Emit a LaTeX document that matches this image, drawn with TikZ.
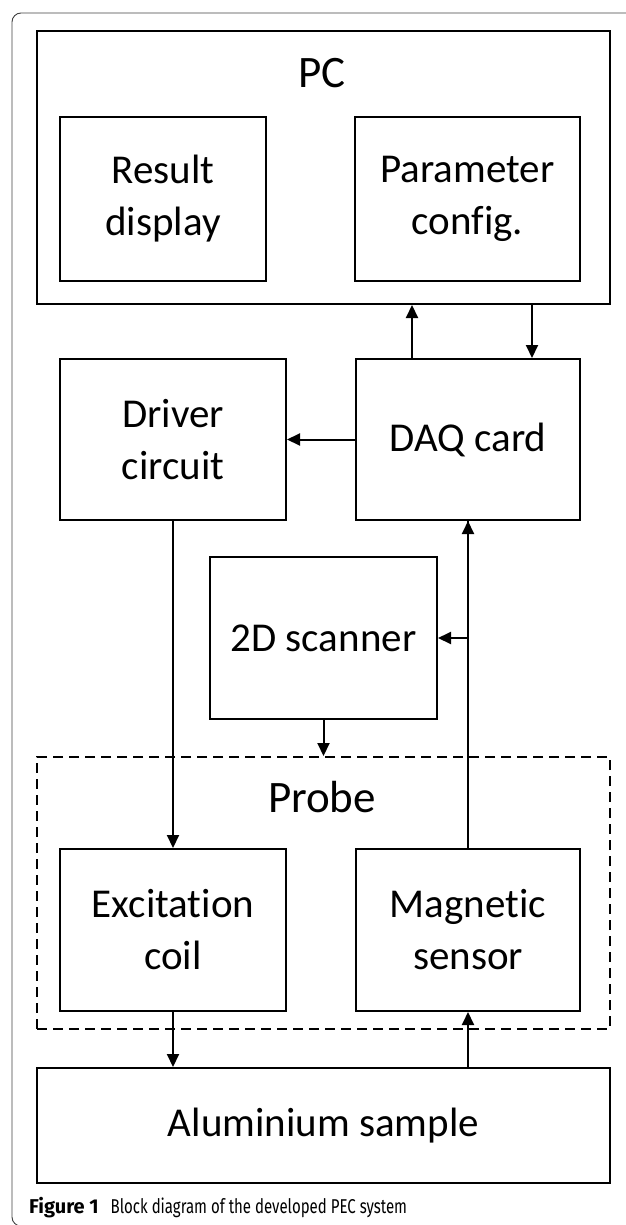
\documentclass[tikz,border=0pt]{standalone}
\usepackage{fontspec}
\setmainfont[Ligatures=NoCommon]{Carlito}
\newfontfamily\capfont{Fira Sans}
\usetikzlibrary{arrows.meta}
\tikzset{
  blk/.style={draw=black, line width=2pt, rectangle, inner sep=0pt, align=center,
    font=\fontsize{41}{52}\selectfont},
  dashblk/.style={draw=black, line width=2pt, rectangle, inner sep=0pt, dash pattern=on 10pt off 6pt},
  ttl/.style={inner sep=0pt, font=\fontsize{45}{52}\selectfont},
  arr/.style={line width=2pt, -{Triangle[width=12pt,length=13pt]}},
  frame/.style={draw=black!75, line width=0.9pt, rounded corners=9pt}
}
\begin{document}
\begin{tikzpicture}[x=1pt,y=1pt]
\useasboundingbox (0,0) rectangle (625,-1225);
% outer frame
\draw[frame] (640,-13) -- (12,-13) -- (12,-1226) -- (40,-1226);
% PC
\node[blk, minimum width=573pt, minimum height=273pt] (pc) at (323.5,-167.5) {};
\node[ttl] (pclbl) at (322,-73) {PC};
\node[blk, minimum width=206pt, minimum height=164pt] (res) at (163,-199) {Result\\display};
\node[blk, minimum width=225pt, minimum height=164pt] (par) at (467.5,-199) {Parameter\\config.};
% middle
\node[blk, minimum width=226pt, minimum height=161pt] (drv) at (173,-439.5) {Driver\\circuit};
\node[blk, minimum width=224pt, minimum height=161pt] (daq) at (468,-439.5) {DAQ card};
\node[blk, minimum width=227pt, minimum height=162pt] (scan) at (323.5,-638) {2D scanner};
% probe
\node[dashblk, minimum width=573pt, minimum height=272pt] (probe) at (323.5,-893) {};
\node[ttl] (problbl) at (322,-797) {Probe};
\node[blk, minimum width=226pt, minimum height=162pt] (exc) at (173,-930) {Excitation\\coil};
\node[blk, minimum width=224pt, minimum height=162pt] (mag) at (468,-930) {Magnetic\\sensor};
% sample
\node[blk, minimum width=573pt, minimum height=115pt] (alu) at (323.5,-1125.5) {Aluminium sample};
% arrows
\draw[arr] ([xshift=-56pt]daq.north) -- ([xshift=-56pt]daq.north |- pc.south);
\draw[arr] ([xshift=64pt]daq.north |- pc.south) -- ([xshift=64pt]daq.north);
\draw[arr] (daq.west) -- (drv.east);
\draw[arr] (daq.south) |- (scan.east);
\draw[arr] (scan.south) -- (scan.south |- probe.north);
\draw[arr] (drv.south) -- (exc.north);
\draw[arr] (mag.north) -- (daq.south);
\draw[arr] (exc.south) -- (exc.south |- alu.north);
\draw[arr] (mag.south |- alu.north) -- (mag.south);
% caption
\node[anchor=base west, inner sep=0pt] (cap) at (29,-1213)
  {\capfont\fontsize{20}{24}\selectfont\textbf{Figure 1}\hspace{12pt}\scalebox{0.75}[1]{Block diagram of the developed PEC system}};
\end{tikzpicture}
\end{document}
